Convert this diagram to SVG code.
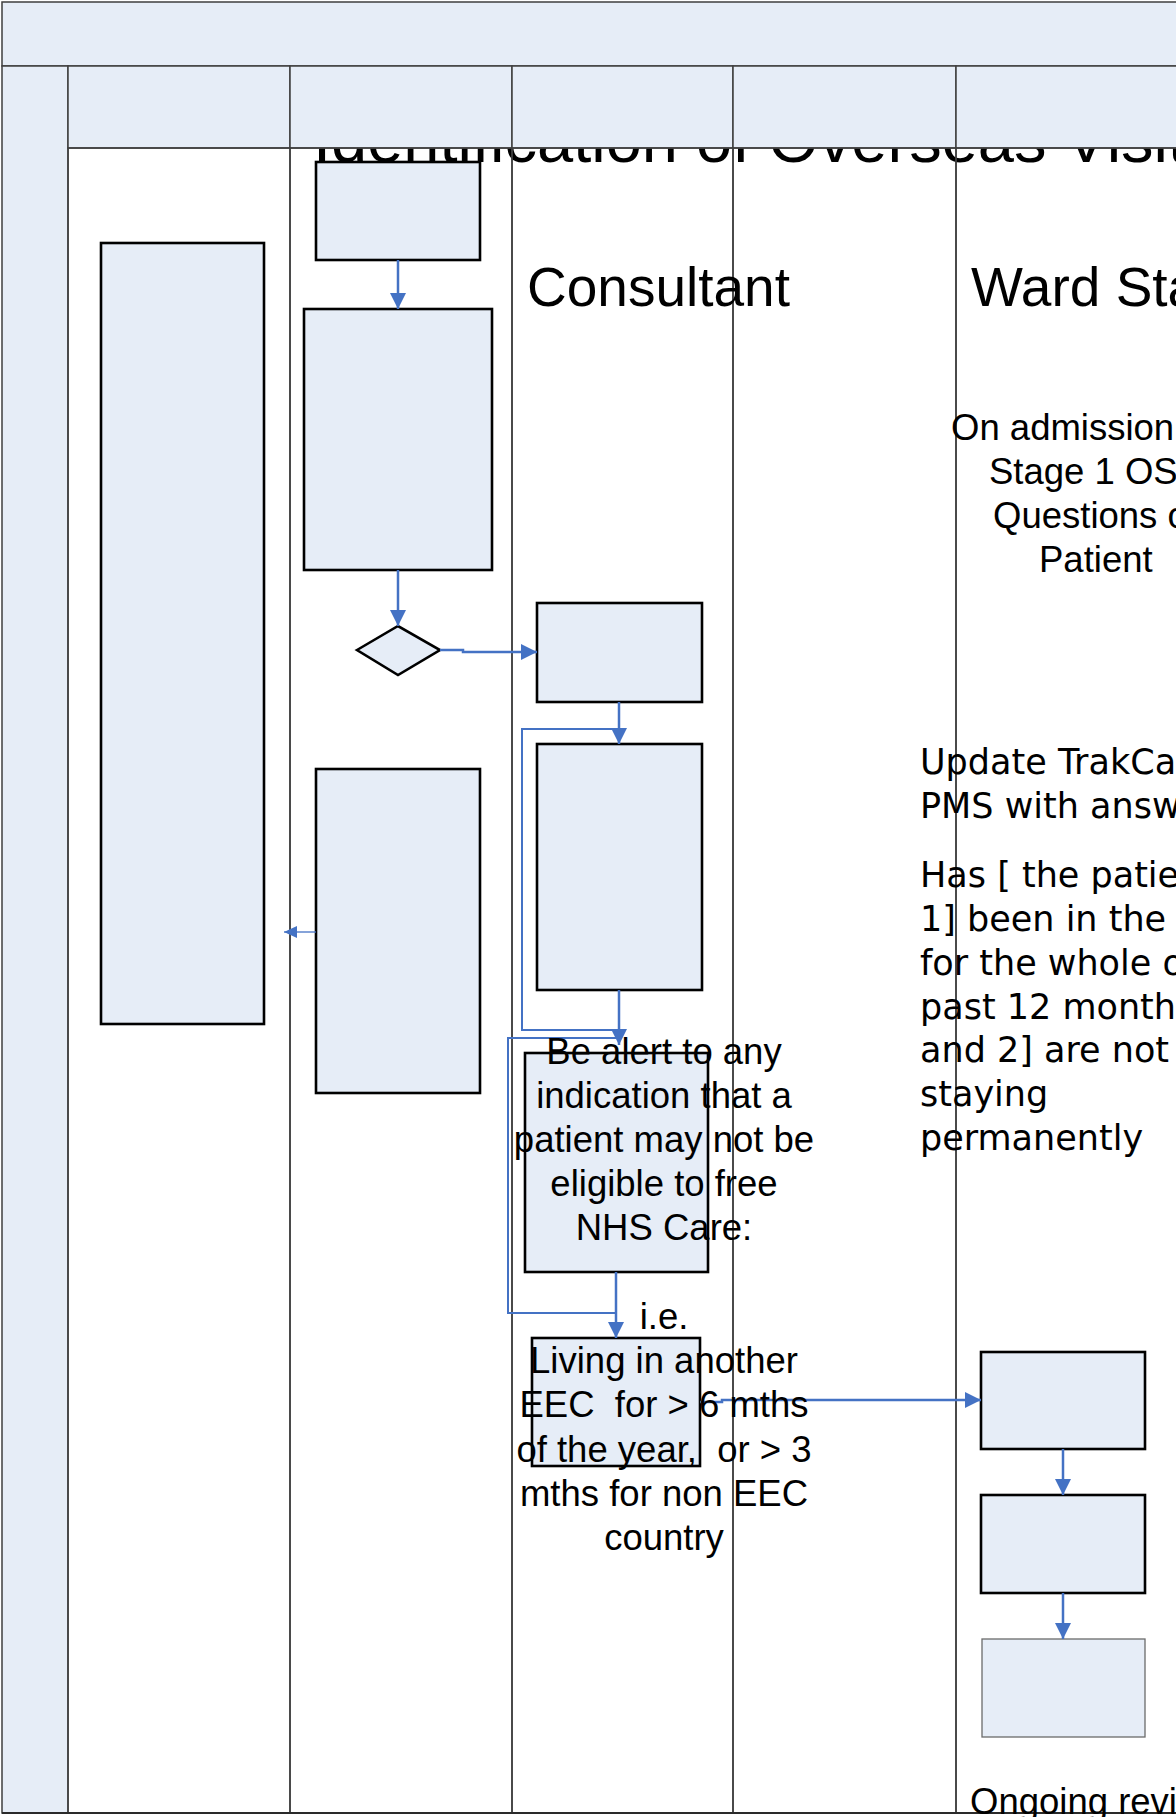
<svg xmlns="http://www.w3.org/2000/svg" width="1176" height="1817" viewBox="0 0 1176 1817">
  <style>
    .band{fill:#E6EDF7;stroke:#3F3F3F;stroke-width:1.5}
    .lane{fill:none;stroke:#3F3F3F;stroke-width:1.5}
    .box{fill:#E6EDF7;stroke:#000;stroke-width:2.6}
    .box-soft{fill:#E6EDF7;stroke:#6B6B6B;stroke-width:1.3}
    .conn{fill:none;stroke:#4472C4;stroke-width:2.5}
    .loop{fill:none;stroke:#4472C4;stroke-width:2}
    .conn-thin{fill:none;stroke:#4472C4;stroke-width:1.3}
    .arial{font-family:"Liberation Sans",Arial,sans-serif;fill:#000}
    .gothic{font-family:"Century Gothic","DejaVu Sans",sans-serif;fill:#000;font-size:35px}
    .body{font-size:36.5px}
  </style>
  <defs>
    <marker id="arrow" markerUnits="userSpaceOnUse" viewBox="0 0 16 16" markerWidth="16" markerHeight="16" refX="16" refY="8" orient="auto">
      <path d="M0,0 L16,8 L0,16 Z" fill="#4472C4"/>
    </marker>
    <marker id="arrow-small" markerUnits="userSpaceOnUse" viewBox="0 0 13 12" markerWidth="13" markerHeight="12" refX="13" refY="6" orient="auto">
      <path d="M0,0 L13,6 L0,12 Z" fill="#4472C4"/>
    </marker>
  </defs>

  <rect x="0" y="0" width="1176" height="1817" fill="#fff"/>

  <!-- title sits beneath the lane header strip -->
  <g id="title">
    <text class="arial" x="313" y="162" font-size="65">Identification of Overseas Visit</text>
  </g>

  <!-- pool frame, bands and lanes -->
  <g id="pool">
    <rect class="band" x="2" y="2" width="1180" height="64"/>
    <rect class="band" x="2" y="66" width="66" height="1747"/>
    <rect class="band" x="68" y="66" width="222" height="82"/>
    <rect class="band" x="290" y="66" width="222" height="82"/>
    <rect class="band" x="512" y="66" width="221" height="82"/>
    <rect class="band" x="733" y="66" width="223" height="82"/>
    <rect class="band" x="956" y="66" width="226" height="82"/>
    <rect class="lane" x="68" y="148" width="222" height="1665"/>
    <rect class="lane" x="290" y="148" width="222" height="1665"/>
    <rect class="lane" x="512" y="148" width="221" height="1665"/>
    <rect class="lane" x="733" y="148" width="223" height="1665"/>
    <rect class="lane" x="956" y="148" width="226" height="1665"/>
    <line x1="2" y1="1813" x2="1176" y2="1813" stroke="#2A2A2A" stroke-width="2"/>
  </g>

  <!-- nodes -->
  <g id="node-a"><rect class="box" x="316" y="162" width="164" height="98"/></g>
  <g id="node-b"><rect class="box" x="304" y="309" width="188" height="261"/></g>
  <g id="node-decision"><path class="box" d="M357,650 L398,626 L440,650 L398,675 Z"/></g>
  <g id="node-c"><rect class="box" x="537" y="603" width="165" height="99"/></g>
  <g id="node-d"><rect class="box" x="537" y="744" width="165" height="246"/></g>
  <g id="node-e"><rect class="box" x="101" y="243" width="163" height="781"/></g>
  <g id="node-f"><rect class="box" x="316" y="769" width="164" height="324"/></g>
  <g id="node-g"><rect class="box" x="525" y="1053" width="183" height="219"/></g>
  <g id="node-h"><rect class="box" x="532" y="1338" width="168" height="128"/></g>
  <g id="node-i"><rect class="box" x="981" y="1352" width="164" height="97"/></g>
  <g id="node-j"><rect class="box" x="981" y="1495" width="164" height="98"/></g>
  <g id="node-k"><rect class="box-soft" x="982" y="1639" width="163" height="98"/></g>

  <!-- connectors -->
  <g id="connectors">
    <path class="conn" d="M398,260 V309" marker-end="url(#arrow)"/>
    <path class="conn" d="M398,570 V626" marker-end="url(#arrow)"/>
    <path class="conn" d="M440,650 H463 V652 H537" marker-end="url(#arrow)"/>
    <path class="conn" d="M619,702 V744" marker-end="url(#arrow)"/>
    <path class="loop" d="M619,729 H522 V1030 H619"/>
    <path class="conn" d="M619,990 V1045" marker-end="url(#arrow)"/>
    <path class="loop" d="M622,1038 H508 V1313 H616"/>
    <path class="conn" d="M616,1272 V1338" marker-end="url(#arrow)"/>
    <path class="conn" d="M700,1402 H722 V1400 H981" marker-end="url(#arrow)"/>
    <path class="conn" d="M1063,1449 V1495" marker-end="url(#arrow)"/>
    <path class="conn" d="M1063,1593 V1639" marker-end="url(#arrow)"/>
    <path class="conn-thin" d="M316,932 H284" marker-end="url(#arrow-small)"/>
  </g>

  <!-- lane captions and notes -->
  <g id="lane-consultant"><text class="arial" x="527" y="306" font-size="55">Consultant</text></g>
  <g id="lane-ward"><text class="arial" x="971" y="306" font-size="55">Ward Sta</text></g>

  <g id="note-admission" class="arial body">
    <text x="951" y="440">On admission</text>
    <text x="989" y="484">Stage 1 OS</text>
    <text x="993" y="528">Questions o</text>
    <text x="1039" y="572">Patient</text>
  </g>

  <g id="note-trakcare" class="gothic">
    <text x="920" y="774">Update TrakCa</text>
    <text x="920" y="818">PMS with answ</text>
    <text x="920" y="887">Has [ the patie</text>
    <text x="920" y="931">1] been in the</text>
    <text x="920" y="975">for the whole o</text>
    <text x="920" y="1019">past 12 month.</text>
    <text x="920" y="1062">and 2] are not</text>
    <text x="920" y="1106">staying</text>
    <text x="920" y="1150">permanently</text>
  </g>

  <g id="note-alert" class="arial body" text-anchor="middle">
    <text x="664" y="1064">Be alert to any</text>
    <text x="664" y="1108">indication that a</text>
    <text x="664" y="1152">patient may not be</text>
    <text x="664" y="1196">eligible to free</text>
    <text x="664" y="1240">NHS Care:</text>
  </g>

  <g id="note-residence" class="arial body" text-anchor="middle">
    <text x="664" y="1329">i.e.</text>
    <text x="664" y="1373">Living in another</text>
    <text x="664" y="1417">EEC &#160;for &gt; 6 mths</text>
    <text x="664" y="1462">of the year, &#160;or &gt; 3</text>
    <text x="664" y="1506">mths for non EEC</text>
    <text x="664" y="1550">country</text>
  </g>

  <g id="note-review"><text class="arial body" x="970" y="1814">Ongoing revi</text></g>
</svg>
